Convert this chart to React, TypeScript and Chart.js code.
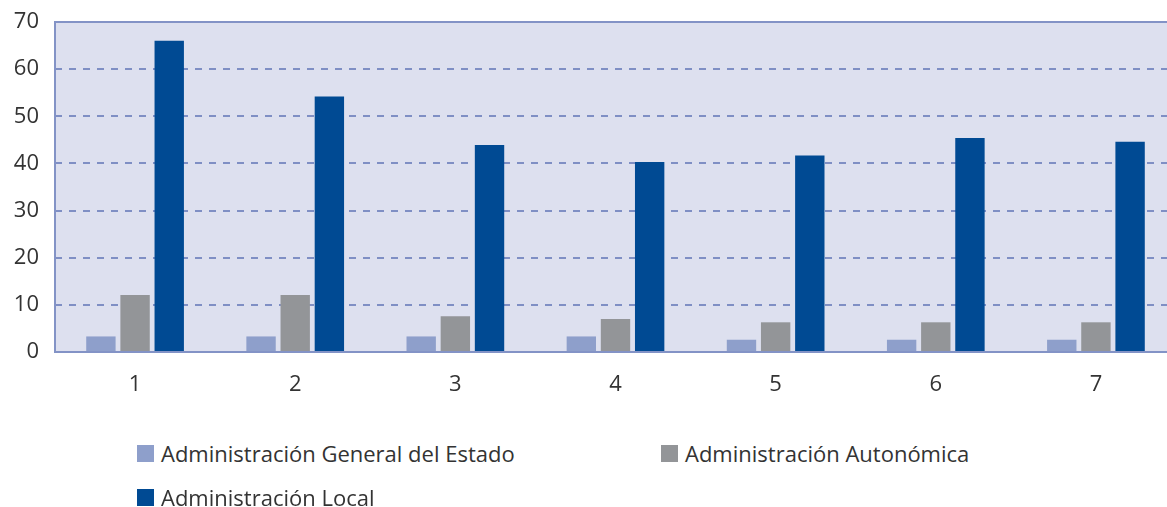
import React, { useEffect, useRef } from "react";
import { Chart, registerables } from "chart.js";

Chart.register(...registerables);

const categories = ["1", "2", "3", "4", "5", "6", "7"];
const ageValues = [3.3, 3.3, 3.3, 3.3, 2.6, 2.6, 2.6];
const autonomicaValues = [12.1, 12.1, 7.6, 7.0, 6.3, 6.3, 6.3];
const localValues = [66.0, 54.2, 43.9, 40.3, 41.7, 45.4, 44.6];
const seriesNames = [
  "Administración General del Estado",
  "Administración Autonómica",
  "Administración Local",
];
const seriesColors = ["#8e9fcb", "#939598", "#004a93"];
const yTicks = [0, 10, 20, 30, 40, 50, 60, 70];

const FONT = "'Open Sans', 'Noto Sans', sans-serif";

const bgPlugin = {
  id: "plotBg",
  beforeDraw(chart: any) {
    const { ctx, chartArea } = chart;
    ctx.save();
    ctx.fillStyle = "#dde0ef";
    ctx.fillRect(chartArea.left, chartArea.top, chartArea.right - chartArea.left, chartArea.bottom - chartArea.top);
    ctx.restore();
  },
  afterDatasetsDraw(chart: any) {
    const { ctx, chartArea } = chart;
    ctx.save();
    ctx.strokeStyle = "#8393c6";
    ctx.lineWidth = 2;
    ctx.beginPath();
    ctx.moveTo(chartArea.right, chartArea.top);
    ctx.lineTo(chartArea.left, chartArea.top);
    ctx.lineTo(chartArea.left, chartArea.bottom);
    ctx.lineTo(chartArea.right, chartArea.bottom);
    ctx.stroke();
    ctx.restore();
  },
};

export default function App() {
  const ref = useRef<HTMLCanvasElement>(null);
  useEffect(() => {
    if (!ref.current) return;
    const chart = new Chart(ref.current, {
      type: "bar",
      data: {
        labels: categories,
        datasets: [ageValues, autonomicaValues, localValues].map((d, i) => ({
          label: seriesNames[i],
          data: d,
          backgroundColor: seriesColors[i],
          borderWidth: 0,
          barPercentage: 0.86,
          categoryPercentage: 0.64,
        })),
      },
      options: {
        animation: false,
        responsive: false,
        maintainAspectRatio: false,
        layout: { padding: { top: 22, right: 0, left: 0, bottom: 0 } },
        plugins: { legend: { display: false }, tooltip: { enabled: false } },
        scales: {
          x: {
            grid: { display: false, drawTicks: false },
            border: { display: false },
            ticks: { color: "#333", font: { family: FONT, size: 22 }, padding: 20 },
            afterFit(scale: any) {
              scale.height = 48;
              scale.paddingLeft = 0;
              scale.paddingRight = 0;
            },
          },
          y: {
            min: 0,
            max: 70,
            afterBuildTicks(scale: any) {
              scale.ticks = yTicks.map((v) => ({ value: v }));
            },
            grid: {
              drawTicks: false,
              color: (c: any) => (c.tick && (c.tick.value === 0 || c.tick.value === 70) ? "rgba(0,0,0,0)" : "#7f8fc4"),
              lineWidth: 2,
            },
            border: { display: false, dash: [7, 7] },
            ticks: { color: "#333", font: { family: FONT, size: 22 }, padding: 16 },
            afterFit(scale: any) {
              scale.width = 55;
              scale.paddingTop = 0;
              scale.paddingBottom = 0;
            },
          },
        },
      },
      plugins: [bgPlugin],
    });
    return () => chart.destroy();
  }, []);

  return (
    <div style={{ position: "fixed", left: 0, top: 0, width: 1176, height: 507, background: "#fff", fontFamily: FONT }}>
      <canvas ref={ref} width={1176} height={400} style={{ display: "block" }} />
      {seriesNames.map((n, i) => {
        const pos = [
          { left: 137, top: 440 },
          { left: 661, top: 440 },
          { left: 137, top: 484 },
        ][i];
        return (
          <div key={n} style={{ position: "absolute", left: pos.left, top: pos.top, display: "flex", alignItems: "center", fontSize: 22, color: "#333", whiteSpace: "nowrap", lineHeight: "26px" }}>
            <span style={{ display: "inline-block", width: 17, height: 17, background: seriesColors[i], marginRight: 7 }} />
            {n}
          </div>
        );
      })}
    </div>
  );
}
